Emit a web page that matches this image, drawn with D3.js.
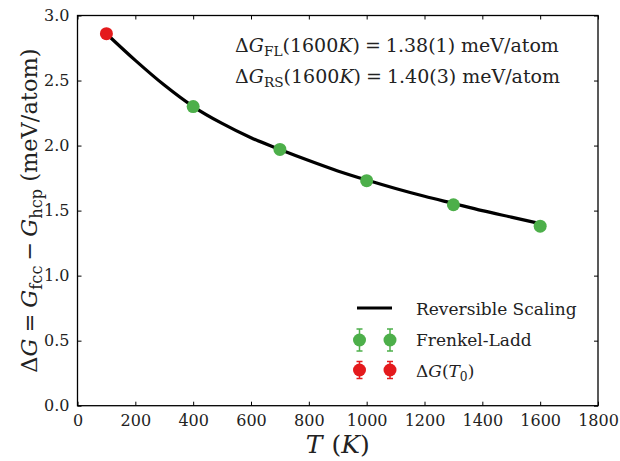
<!DOCTYPE html>
<html>
<head>
<meta charset="utf-8">
<script src="https://cdn.jsdelivr.net/npm/d3@7"></script>
<style>
  body { margin: 0; background: #fff; }
  svg text { font-family: "DejaVu Serif"; }
</style>
</head>
<body>
<div id="wrapper"></div>
<script>
// reversible scaling curve (T in K, dG in meV/atom)
const rsTemps = [100, 200, 300, 400, 500, 600, 700, 800, 900, 1000, 1100, 1200, 1300, 1400, 1500, 1600]
const rsValues = [2.86, 2.655, 2.465, 2.30, 2.17, 2.06, 1.97, 1.885, 1.805, 1.735, 1.67, 1.61, 1.555, 1.50, 1.45, 1.40]
// Frenkel-Ladd points
const flTemps = [400, 700, 1000, 1300, 1600]
const flValues = [2.30, 1.97, 1.73, 1.545, 1.38]
// reference point
const t0Temps = [100]
const t0Values = [2.86]

const xTicks = [0, 200, 400, 600, 800, 1000, 1200, 1400, 1600, 1800]
const yTicks = [0.0, 0.5, 1.0, 1.5, 2.0, 2.5, 3.0]

const green = "#4daf4a"
const red = "#e41a1c"
const serif = "DejaVu Serif"

let dimensions = {
    width: 620,
    height: 461,
    margin: { top: 15.5, right: 22, bottom: 55.3, left: 77.5 },
}
dimensions.boundedWidth = dimensions.width - dimensions.margin.left - dimensions.margin.right
dimensions.boundedHeight = dimensions.height - dimensions.margin.top - dimensions.margin.bottom

const wrapper = d3.select("#wrapper")
    .append("svg")
    .attr("width", dimensions.width)
    .attr("height", dimensions.height)

const bounds = wrapper.append("g")
    .attr("transform", `translate(${dimensions.margin.left},${dimensions.margin.top})`)

const xScaler = d3.scaleLinear()
    .domain([0, 1800])
    .range([0, dimensions.boundedWidth])
const yScaler = d3.scaleLinear()
    .domain([0, 3])
    .range([dimensions.boundedHeight, 0])

// axes, ticks pointing inward on all four sides
const tickLen = 4
const xAxis = bounds.append("g")
    .attr("transform", `translate(0,${dimensions.boundedHeight})`)
    .call(d3.axisBottom(xScaler).tickValues(xTicks).tickSizeInner(-tickLen).tickSizeOuter(0).tickPadding(9).tickFormat(d3.format("d")))
const xTop = bounds.append("g")
    .call(d3.axisTop(xScaler).tickValues(xTicks).tickSizeInner(-tickLen).tickSizeOuter(0).tickFormat(""))
const yAxis = bounds.append("g")
    .call(d3.axisLeft(yScaler).tickValues(yTicks).tickSizeInner(-tickLen).tickSizeOuter(0).tickPadding(8).tickFormat(d3.format(".1f")))
const yRight = bounds.append("g")
    .attr("transform", `translate(${dimensions.boundedWidth},0)`)
    .call(d3.axisRight(yScaler).tickValues(yTicks).tickSizeInner(-tickLen).tickSizeOuter(0).tickFormat(""))

bounds.selectAll(".domain").remove()
bounds.selectAll(".tick line").attr("stroke", "#000").attr("stroke-width", 1)
bounds.selectAll("g").attr("font-family", serif)
bounds.selectAll(".tick text")
    .attr("font-family", serif)
    .attr("font-size", "16px")
    .attr("fill", "#222")

bounds.append("rect")
    .attr("width", dimensions.boundedWidth)
    .attr("height", dimensions.boundedHeight)
    .attr("fill", "none")
    .attr("stroke", "#000")
    .attr("stroke-width", 1.3)

// reversible scaling curve
const rsData = rsTemps.map((t, i) => ({ t: t, v: rsValues[i] }))
const lineGen = d3.line()
    .x(d => xScaler(d.t))
    .y(d => yScaler(d.v))
    .curve(d3.curveMonotoneX)
bounds.append("path")
    .datum(rsData)
    .attr("d", lineGen)
    .attr("fill", "none")
    .attr("stroke", "#000")
    .attr("stroke-width", 3.2)

// points
bounds.selectAll(".fl")
    .data(flTemps)
    .enter()
    .append("circle")
    .attr("cx", d => xScaler(d))
    .attr("cy", (d, i) => yScaler(flValues[i]))
    .attr("r", 6.5)
    .attr("fill", green)
bounds.selectAll(".t0")
    .data(t0Temps)
    .enter()
    .append("circle")
    .attr("cx", d => xScaler(d))
    .attr("cy", (d, i) => yScaler(t0Values[i]))
    .attr("r", 6.5)
    .attr("fill", red)

// math-ish text built from tspans
function mathText(parent, x, y, size, parts) {
    const t = parent.append("text")
        .attr("x", x)
        .attr("y", y)
        .attr("font-family", serif)
        .attr("font-size", size + "px")
        .attr("fill", "#222")
    parts.forEach(p => {
        const s = t.append("tspan").text(p.text)
        if (p.italic) s.attr("font-style", "italic")
        if (p.sub) s.attr("font-size", (size * 0.72) + "px").attr("dy", size * 0.22)
        if (p.back) s.attr("dy", -size * 0.22)
        if (p.dx) s.attr("dx", p.dx)
    })
    return t
}
mathText(wrapper, 235, 52, 19, [
    { text: "Δ" }, { text: "G", italic: true }, { text: "FL", sub: true },
    { text: "(1600", back: true }, { text: "K", italic: true }, { text: ")" },
    { text: "=", dx: 5 }, { text: "1.38(1) meV/atom", dx: 5 },
])
mathText(wrapper, 235, 83, 19, [
    { text: "Δ" }, { text: "G", italic: true }, { text: "RS", sub: true },
    { text: "(1600", back: true }, { text: "K", italic: true }, { text: ")" },
    { text: "=", dx: 5 }, { text: "1.40(3) meV/atom", dx: 5 },
])

// legend
const legend = wrapper.append("g")
legend.append("line")
    .attr("x1", 357).attr("x2", 392)
    .attr("y1", 308).attr("y2", 308)
    .attr("stroke", "#000").attr("stroke-width", 3.2)
const legendMarks = [
    { y: 340, color: green, err: 11 },
    { y: 370, color: red, err: 8.5 },
]
legendMarks.forEach(m => {
    [359.5, 390].forEach(x => {
        legend.append("line").attr("x1", x).attr("x2", x)
            .attr("y1", m.y - m.err).attr("y2", m.y + m.err)
            .attr("stroke", m.color).attr("stroke-width", 1.5)
        ;[-m.err, m.err].forEach(e => legend.append("line")
            .attr("x1", x - 3).attr("x2", x + 3)
            .attr("y1", m.y + e).attr("y2", m.y + e)
            .attr("stroke", m.color).attr("stroke-width", 1.5))
        legend.append("circle").attr("cx", x).attr("cy", m.y).attr("r", 6.5).attr("fill", m.color)
    })
})
legend.append("text").attr("x", 416).attr("y", 315).attr("font-family", serif).attr("font-size", "17px").attr("fill", "#222").text("Reversible Scaling")
legend.append("text").attr("x", 416).attr("y", 346).attr("font-family", serif).attr("font-size", "17px").attr("fill", "#222").text("Frenkel-Ladd")
mathText(legend, 416, 377, 17, [
    { text: "Δ" }, { text: "G", italic: true }, { text: "(" }, { text: "T", italic: true },
    { text: "0", sub: true }, { text: ")", back: true },
])

// axis labels
const xLabel = mathText(wrapper, dimensions.margin.left + dimensions.boundedWidth / 2, 453, 25, [
    { text: "T", italic: true }, { text: "(", dx: 9 }, { text: "K", italic: true }, { text: ")" },
])
xLabel.attr("text-anchor", "middle")

const yLabel = mathText(wrapper, 0, 0, 22.5, [
    { text: "Δ" }, { text: "G", italic: true }, { text: "=", dx: 6 }, { text: "G", italic: true, dx: 6 },
    { text: "fcc", sub: true }, { text: "−", back: true, dx: 5 }, { text: "G", italic: true, dx: 5 },
    { text: "hcp", sub: true }, { text: "(meV/atom)", back: true, dx: 7 },
])
yLabel.attr("text-anchor", "middle")
    .attr("transform", `translate(37,${dimensions.margin.top + dimensions.boundedHeight / 2}) rotate(-90)`)
</script>
</body>
</html>
